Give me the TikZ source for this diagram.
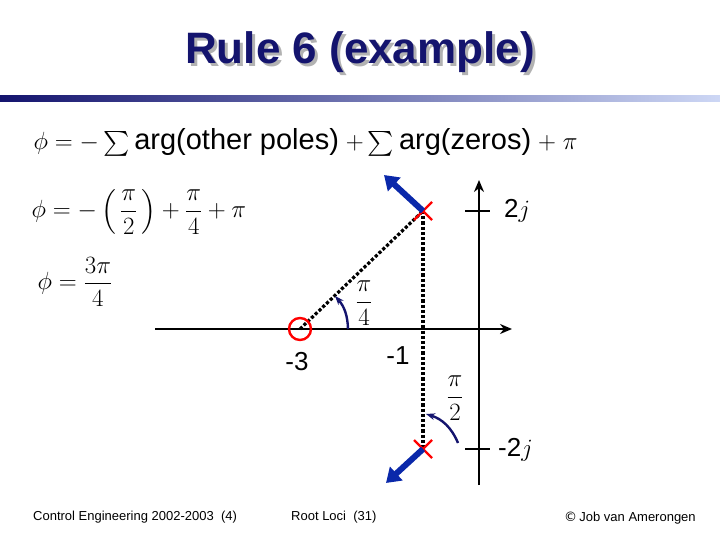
\documentclass[tikz,border=0pt]{standalone}
\usepackage{amsmath}
\usepackage{fontspec}
\setmainfont{Liberation Sans}
\setsansfont{Liberation Sans}
\usetikzlibrary{positioning,arrows.meta}
\definecolor{navy}{RGB}{20,20,110}
\definecolor{arrowblue}{RGB}{10,40,170}
\definecolor{barlight}{RGB}{205,215,245}
\tikzset{
  polex/.style={red,line width=2.4pt},
  bigarrow/.style={arrowblue,line width=6pt,-{Triangle[length=14pt,width=18pt]}},
  anglearc/.style={navy,line width=2.4pt,-{Stealth[length=9pt]}},
  axisline/.style={line width=2.8pt,-{Stealth[length=12pt,width=10pt]}},
  lbl/.style={font=\fontsize{26}{28}\selectfont,inner sep=1pt},
  frac/.style={font=\fontsize{24}{26}\selectfont,inner sep=1pt},
  foot/.style={font=\fontsize{13}{15}\selectfont,anchor=base west,inner sep=0pt}
}
\begin{document}
\begin{tikzpicture}[x=1pt,y=-1pt]
  \useasboundingbox (0,0) rectangle (720,540);
  % title
  \node[font=\fontsize{44}{48}\bfseries,text=gray!60] (shadow) at (363,55) {Rule 6 (example)};
  \node[font=\fontsize{44}{48}\bfseries,text=navy] (title) at (360,52) {Rule 6 (example)};
  \shade[left color=navy,right color=barlight] (0,96) rectangle (720,102);

  % formulas
  \node[anchor=base west,font=\fontsize{29}{31}\selectfont] (eqa) at (30,150)
    {$\phi=-\sum$\,arg(other poles)$\;+\sum$\,arg(zeros)$\;+\;\pi$};
  \node[anchor=west,font=\fontsize{30}{32}\selectfont] (eqb) at (28,212)
    {$\phi=-\left(\,\dfrac{\pi}{2}\,\right)+\dfrac{\pi}{4}+\pi$};
  \node[anchor=west,font=\fontsize{30}{32}\selectfont] (eqc) at (34,282)
    {$\phi=\dfrac{3\pi}{4}$};

  % axes
  \coordinate (xend) at (512,329);
  \coordinate (xbeg) at (155,329);
  \coordinate (ybot) at (479,485);
  \coordinate (ytop) at (479,180);
  \draw[axisline] (xbeg) -- (xend);
  \draw[axisline] (ybot) -- (ytop);
  \draw[line width=2.8pt] (465,211) -- (490,211) (465,449) -- (490,449);
  \node[lbl,anchor=west] (twoj) at (503,211) {2$j$};
  \node[lbl,anchor=west] (mtwoj) at (497,450) {-2$j$};

  % poles and zero
  \coordinate (pu) at (423,211);
  \coordinate (pl) at (423,449);
  \coordinate (zr) at (300,329);
  \draw[line width=3.2pt,dotted] (zr) -- (pu);
  \draw[line width=3.2pt,dotted] (pu) -- (pl);
  \draw[polex] (zr) circle (11);
  \draw[polex] (414,202) -- (432,220) (414,220) -- (432,202);
  \draw[polex] (414,440) -- (432,458) (414,458) -- (432,440);
  \coordinate (tu) at (384,175);
  \coordinate (tl) at (386,483);
  \draw[bigarrow] (pu) -- (tu);
  \draw[bigarrow] (pl) -- (tl);

  % angles
  \draw[anglearc] (348,329) to[bend right=20] (335,296);
  \draw[anglearc] (458,443) to[bend right=25] (426,414);
  \node[frac] (quarter) at (364,303) {$\dfrac{\pi}{4}$};
  \node[frac] (half) at (455,398) {$\dfrac{\pi}{2}$};
  \node[lbl] (mthree) at (297,362) {-3};
  \node[lbl] (mone) at (398,356) {-1};

  % footer
  \node[foot] (f1) at (33,520) {Control Engineering 2002-2003\ \ (4)};
  \node[foot] (f2) at (291,520) {Root Loci\ \ (31)};
  \node[foot] (f3) at (564,521) {\fontspec{DejaVu Sans}\fontsize{13}{15}\selectfont ©\,\fontspec{Liberation Sans}Job van Amerongen};
\end{tikzpicture}
\end{document}
